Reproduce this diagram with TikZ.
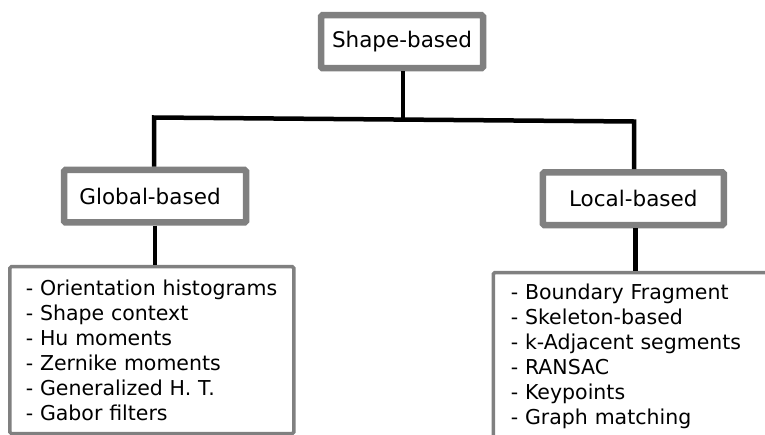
\documentclass[tikz,border=0pt]{standalone}
\usepackage{fontspec}
\setmainfont{DejaVu Sans}
\usetikzlibrary{positioning}
\tikzset{
  hd/.style  ={draw=gray, line width=6.5pt, rounded corners=1.5pt, fill=white, inner sep=0pt, font=\fontsize{21.5}{26}\selectfont},
  lst/.style ={draw=gray, line width=3.5pt, rounded corners=1.5pt, anchor=north west, align=left, font=\fontsize{20.5}{25}\selectfont},
  conn/.style={draw=black, line width=4.5pt}
}

\begin{document}
\begin{tikzpicture}[x=1pt,y=1pt]
\useasboundingbox (0,0) rectangle (765,-434);
\clip (0,0) rectangle (765,-434);
% heading boxes
\node[hd, minimum width=162pt, minimum height=53pt]   (shape) at (402,-41.7)   {Shape-based};
\node[hd, minimum width=182pt, minimum height=52.5pt] (glob)  at (155,-196.2)  {Global-based\hspace*{10pt}};
\node[hd, minimum width=181pt, minimum height=52.7pt] (loc)   at (633.3,-198.7) {Local-based};
% method lists
\node[lst, text width=252pt, inner xsep=16pt, inner ysep=13pt] (glist) at (8.05,-264.95)
  {- Orientation histograms\\- Shape context\\- Hu moments\\- Zernike moments\\- Generalized H. T.\\- Gabor filters};
\node[lst, text width=270pt, inner xsep=17.5pt, inner ysep=11.5pt] (llist) at (491.55,-270.75)
  {- Boundary Fragment\\- Skeleton-based\\- k-Adjacent segments\\- RANSAC\\- Keypoints\\- Graph matching};
% connectors
\coordinate (jl) at (154,-117.5);
\coordinate (jr) at (634,-121.5);
\coordinate (jm) at (403,-119.5);
\draw[conn] (shape.south -| jm) -- (jm);
\draw[conn] (jl |- glob.north) -- (jl) -- (jr) -- (jr |- loc.north);
\draw[conn] (glob.south) -- (glob.south |- glist.north);
\draw[conn] ([xshift=2.4pt]loc.south) -- ([xshift=2.4pt]loc.south |- llist.north);
\end{tikzpicture}
\end{document}
